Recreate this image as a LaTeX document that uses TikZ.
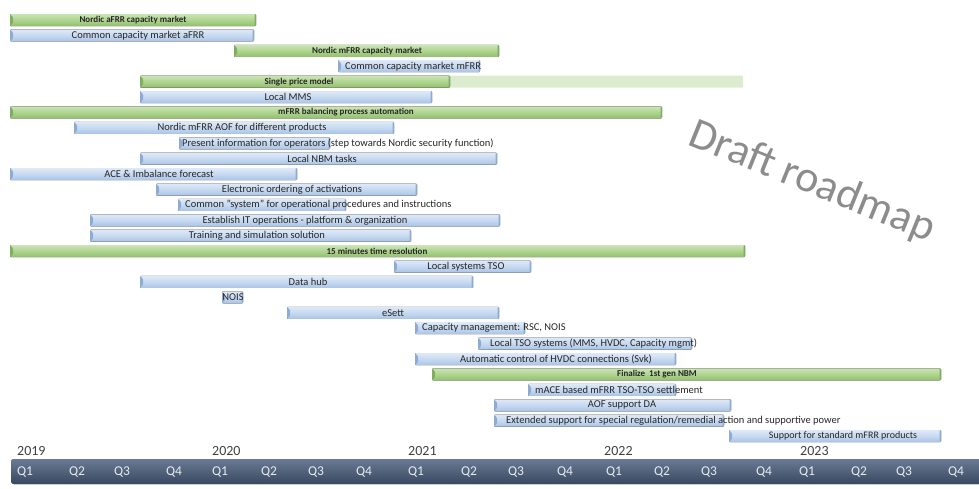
\documentclass[tikz,border=0pt]{standalone}
\usepackage{fontspec}
\setmainfont{Carlito}
\usepackage{tikz}
\usetikzlibrary{backgrounds}
\definecolor{xbluetop}{RGB}{222,233,247}
\definecolor{xblue}{RGB}{198,217,241}
\definecolor{xbluebot}{RGB}{170,195,227}
\definecolor{xblueedge}{RGB}{141,172,212}
\definecolor{xgreentop}{RGB}{203,228,182}
\definecolor{xgreen}{RGB}{174,212,142}
\definecolor{xgreenbot}{RGB}{146,190,110}
\definecolor{xgreenedge}{RGB}{126,174,94}
\definecolor{xpalegreen}{RGB}{220,236,207}
\definecolor{xaxistop}{RGB}{106,122,148}
\definecolor{xaxisbot}{RGB}{56,72,96}
\definecolor{xtext}{RGB}{38,38,38}
\definecolor{xyear}{RGB}{64,64,64}
\definecolor{xquarter}{RGB}{230,235,242}
\definecolor{xdraft}{RGB}{140,140,140}
\begin{document}
\begin{tikzpicture}[x=1pt, y=-1pt, every node/.style={inner sep=0pt},
	bluebar/.style={top color=xbluetop, bottom color=xbluebot, middle color=xblue, rounded corners=1pt,
		path picture={\fill[xblueedge] (path picture bounding box.north west) -- ([xshift=3pt,yshift=-3pt]path picture bounding box.north west) -- ([xshift=3pt,yshift=3pt]path picture bounding box.south west) -- (path picture bounding box.south west) -- cycle;
			\fill[xblueedge] ([xshift=-1.5pt]path picture bounding box.north east) rectangle (path picture bounding box.south east);}},
	greenbar/.style={top color=xgreentop, bottom color=xgreenbot, middle color=xgreen, rounded corners=1pt,
		path picture={\fill[xgreenedge] (path picture bounding box.north west) -- ([xshift=3pt,yshift=-3pt]path picture bounding box.north west) -- ([xshift=3pt,yshift=3pt]path picture bounding box.south west) -- (path picture bounding box.south west) -- cycle;
			\fill[xgreenedge] ([xshift=-1.5pt]path picture bounding box.north east) rectangle (path picture bounding box.south east);}},
	palebar/.style={fill=xpalegreen, rounded corners=1pt},
	bluetext/.style={font=\fontsize{10.5}{12}\selectfont, text=xtext},
	greentext/.style={font=\fontsize{9}{10}\selectfont\bfseries, text=xtext},
	yeartext/.style={font=\fontsize{14}{16}\selectfont, text=xyear, anchor=west},
	quartertext/.style={font=\fontsize{13.5}{16}\selectfont, text=xquarter}]
			\useasboundingbox (0,0) rectangle (979,488);
			\def \o {4.59}
			\def \r {15.41}
			\def \h {6}
			\node[greentext] at (133, \o+1*\r) (nafrr) {Nordic aFRR\ capacity\ market};
			\node[bluetext] at (138, \o+2*\r) (cafrr) {Common capacity market aFRR};
			\node[greentext] at (367, \o+3*\r) (nmfrr) {Nordic mFRR capacity market};
			\node[bluetext, anchor=west] at (345, \o+4*\r) (cmfrr) {Common capacity market mFRR};
			\node[greentext] at (299, \o+5*\r) (price) {Single price model};
			\node[bluetext] at (288, \o+6*\r) (mms) {Local MMS};
			\node[greentext] at (346, \o+7*\r) (auto) {mFRR balancing process automation};
			\node[bluetext] at (242, \o+8*\r) (aof) {Nordic mFRR AOF for different products};
			\node[bluetext, anchor=west] at (182, \o+9*\r) (info) {Present information for operators (step towards Nordic security function)};
			\node[bluetext] at (322, \o+10*\r) (nbm) {Local NBM tasks};
			\node[bluetext] at (159, \o+11*\r) (ace) {ACE \& Imbalance forecast};
			\node[bluetext] at (292, \o+12*\r) (order) {Electronic ordering of activations};
			\node[bluetext, anchor=west] at (185, \o+13*\r) (proc) {Common "system" for operational procedures and instructions};
			\node[bluetext] at (305, \o+14*\r) (itops) {Establish IT operations - platform \& organization};
			\node[bluetext] at (257, \o+15*\r) (train) {Training and simulation solution};
			\node[greentext] at (377, \o+16*\r) (res15) {15 minutes time resolution};
			\node[bluetext] at (466, \o+17*\r) (tsosys) {Local systems TSO};
			\node[bluetext] at (308, \o+18*\r) (hub) {Data hub};
			\node[bluetext] at (233, \o+19*\r) (nois) {NOIS};
			\node[bluetext] at (393, \o+20*\r) (esett) {eSett};
			\node[bluetext, anchor=west] at (422, \o+21*\r) (capm) {Capacity management: RSC, NOIS};
			\node[bluetext, anchor=west] at (490, \o+22*\r) (tsoloc) {Local TSO systems (MMS, HVDC, Capacity mgmt)};
			\node[bluetext] at (556, \o+23*\r) (hvdc) {Automatic control of HVDC connections (Svk)};
			\node[greentext] at (657, \o+24*\r) (nbm1) {Finalize\ \ 1st gen NBM};
			\node[bluetext, anchor=west] at (535, \o+25*\r) (mace) {mACE based mFRR TSO-TSO settlement};
			\node[bluetext] at (622, \o+26*\r) (aofda) {AOF support DA};
			\node[bluetext, anchor=west] at (506, \o+27*\r) (ext) {Extended support for special regulation/remedial action and supportive power};
			\node[bluetext, font=\fontsize{10}{12}\selectfont] at (843, \o+28*\r) (std) {Support for standard mFRR products};
			\begin{scope}[on background layer]
				\fill[greenbar] (10, \o+1*\r-\h) rectangle (256, \o+1*\r+\h);
				\fill[bluebar] (10, \o+2*\r-\h) rectangle (254, \o+2*\r+\h);
				\fill[greenbar] (234, \o+3*\r-\h) rectangle (499, \o+3*\r+\h);
				\fill[bluebar] (338, \o+4*\r-\h) rectangle (480, \o+4*\r+\h);
				\fill[palebar] (440, \o+5*\r-\h) rectangle (743, \o+5*\r+\h);
				\fill[greenbar] (140, \o+5*\r-\h) rectangle (450, \o+5*\r+\h);
				\fill[bluebar] (140, \o+6*\r-\h) rectangle (432, \o+6*\r+\h);
				\fill[greenbar] (10, \o+7*\r-\h) rectangle (662, \o+7*\r+\h);
				\fill[bluebar] (74, \o+8*\r-\h) rectangle (394, \o+8*\r+\h);
				\fill[bluebar] (179, \o+9*\r-\h) rectangle (330, \o+9*\r+\h);
				\fill[bluebar] (140, \o+10*\r-\h) rectangle (497, \o+10*\r+\h);
				\fill[bluebar] (10, \o+11*\r-\h) rectangle (297, \o+11*\r+\h);
				\fill[bluebar] (156, \o+12*\r-\h) rectangle (417, \o+12*\r+\h);
				\fill[bluebar] (178, \o+13*\r-\h) rectangle (346, \o+13*\r+\h);
				\fill[bluebar] (90, \o+14*\r-\h) rectangle (500, \o+14*\r+\h);
				\fill[bluebar] (90, \o+15*\r-\h) rectangle (411, \o+15*\r+\h);
				\fill[greenbar] (10, \o+16*\r-\h) rectangle (745, \o+16*\r+\h);
				\fill[bluebar] (394, \o+17*\r-\h) rectangle (531, \o+17*\r+\h);
				\fill[bluebar] (140, \o+18*\r-\h) rectangle (473, \o+18*\r+\h);
				\fill[bluebar] (222, \o+19*\r-\h) rectangle (243, \o+19*\r+\h);
				\fill[bluebar] (287, \o+20*\r-\h) rectangle (499, \o+20*\r+\h);
				\fill[bluebar] (415, \o+21*\r-\h) rectangle (525, \o+21*\r+\h);
				\fill[bluebar] (478, \o+22*\r-\h) rectangle (692, \o+22*\r+\h);
				\fill[bluebar] (415, \o+23*\r-\h) rectangle (676, \o+23*\r+\h);
				\fill[greenbar] (432, \o+24*\r-\h) rectangle (941, \o+24*\r+\h);
				\fill[bluebar] (528, \o+25*\r-\h) rectangle (676, \o+25*\r+\h);
				\fill[bluebar] (494, \o+26*\r-\h) rectangle (731, \o+26*\r+\h);
				\fill[bluebar] (494, \o+27*\r-\h) rectangle (724, \o+27*\r+\h);
				\fill[bluebar] (729, \o+28*\r-\h) rectangle (941, \o+28*\r+\h);
			\end{scope}
			\node[rotate=-22, font=\fontsize{44}{50}\selectfont, text=xdraft] at (812, 182) (draft) {Draft roadmap};
			\node[yeartext] at (17, 451) (y2019) {2019};
			\node[yeartext] at (212, 451) (y2020) {2020};
			\node[yeartext] at (408, 451) (y2021) {2021};
			\node[yeartext] at (604, 451) (y2022) {2022};
			\node[yeartext] at (800, 451) (y2023) {2023};
			\begin{scope}[on background layer]
				\fill[top color=xaxistop, bottom color=xaxisbot, rounded corners=3pt] (11, 459) rectangle (990, 484);
			\end{scope}
			\node[quartertext] at (25, 472) (q19a) {Q1};
			\node[quartertext] at (77, 472) (q19b) {Q2};
			\node[quartertext] at (122, 472) (q19c) {Q3};
			\node[quartertext] at (174, 472) (q19d) {Q4};
			\node[quartertext] at (220, 472) (q20a) {Q1};
			\node[quartertext] at (269, 472) (q20b) {Q2};
			\node[quartertext] at (316, 472) (q20c) {Q3};
			\node[quartertext] at (364, 472) (q20d) {Q4};
			\node[quartertext] at (416, 472) (q21a) {Q1};
			\node[quartertext] at (469, 472) (q21b) {Q2};
			\node[quartertext] at (516, 472) (q21c) {Q3};
			\node[quartertext] at (565, 472) (q21d) {Q4};
			\node[quartertext] at (614, 472) (q22a) {Q1};
			\node[quartertext] at (662, 472) (q22b) {Q2};
			\node[quartertext] at (709, 472) (q22c) {Q3};
			\node[quartertext] at (764, 472) (q22d) {Q4};
			\node[quartertext] at (807, 472) (q23a) {Q1};
			\node[quartertext] at (859, 472) (q23b) {Q2};
			\node[quartertext] at (904, 472) (q23c) {Q3};
			\node[quartertext] at (956, 472) (q23d) {Q4};
		\end{tikzpicture}
\end{document}
